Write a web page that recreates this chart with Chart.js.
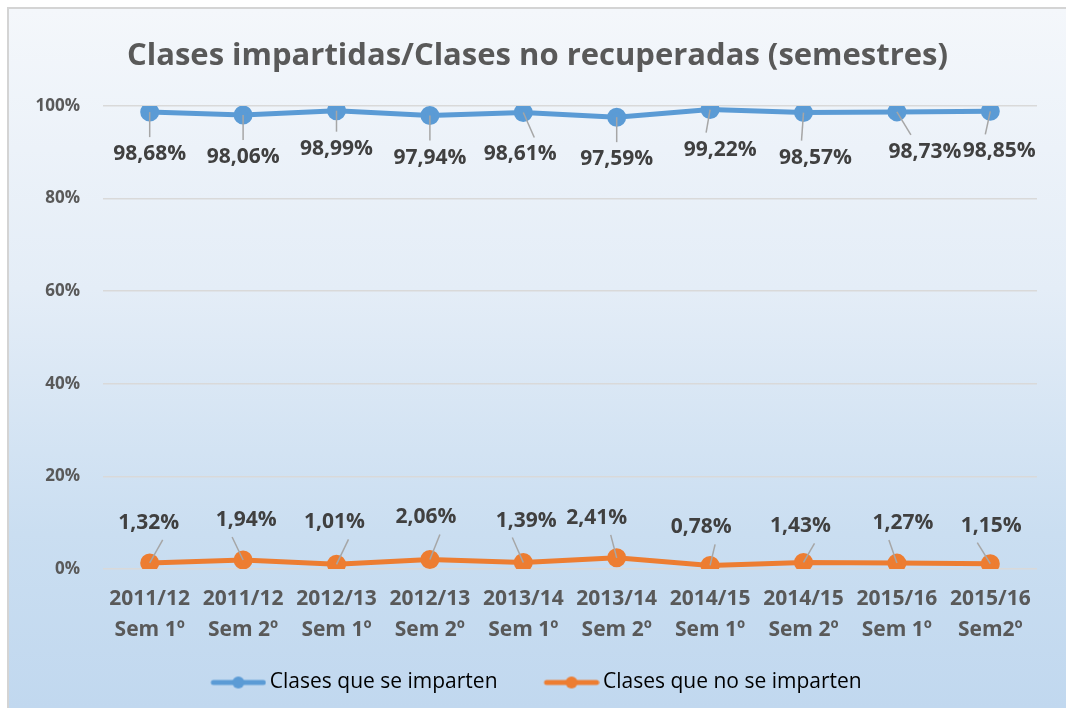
<!DOCTYPE html>
<html>
<head>
<meta charset="utf-8">
<script src="https://cdn.jsdelivr.net/npm/chart.js@4.4.0/dist/chart.umd.min.js"></script>
<style>
  body { margin: 0; background: #fff; }
  #box {
    position: absolute; left: 7px; top: 7px; width: 1059px; height: 699px;
    border-top: 2px solid #d4d4d4; border-left: 2px solid #d4d4d4;
    background: linear-gradient(to bottom, #f4f7fb 0%, #e4edf7 40%, #cadef1 75%, #c1d8ef 100%);
  }
  #title {
    position: absolute; left: 0; width: 1075px; top: 33px; text-align: center;
    font: bold 31px "Open Sans"; color: #595959; line-height: 40px;
  }
  #chart { display: block; position: absolute; left: 0; top: 0; }
</style>
</head>
<body>
<div id="box">
  <canvas id="chart" width="1059" height="699"></canvas>
</div>
<div id="title">Clases impartidas/Clases no recuperadas (semestres)</div>
<script>
const categories = [
  ['2011/12', 'Sem 1º'], ['2011/12', 'Sem 2º'], ['2012/13', 'Sem 1º'], ['2012/13', 'Sem 2º'],
  ['2013/14', 'Sem 1º'], ['2013/14', 'Sem 2º'], ['2014/15', 'Sem 1º'], ['2014/15', 'Sem 2º'],
  ['2015/16', 'Sem 1º'], ['2015/16', 'Sem2º']
];
const impartidas = [98.68, 98.06, 98.99, 97.94, 98.61, 97.59, 99.22, 98.57, 98.73, 98.85];
const noImpartidas = [1.32, 1.94, 1.01, 2.06, 1.39, 2.41, 0.78, 1.43, 1.27, 1.15];
const seriesNames = ['Clases que se imparten', 'Clases que no se imparten'];
const yTicks = [0, 20, 40, 60, 80, 100];

// label nudges (px) for the data labels, like manual Excel placement
const blueNudge = [[0, 42], [0, 42], [0, 38], [0, 42], [-3, 42], [0, 42], [10, 40], [12, 45], [28, 40], [9, 40]];
const orangeNudge = [[-1, -40], [3, -40], [-2, -42], [-4, -42], [3, -42], [-20, -40], [-9, -38], [-3, -36], [6, -40], [1, -38]];

const fmt = v => v.toFixed(2).replace('.', ',') + '%';

// legend marker: line with a dot at the right end of a wider image,
// the empty left part adds to the gap between the two legend items
function legendMarker(color) {
  const c = document.createElement('canvas');
  c.width = 89; c.height = 16;
  const g = c.getContext('2d');
  g.strokeStyle = color;
  g.lineWidth = 5;
  g.lineCap = 'round';
  g.beginPath(); g.moveTo(36, 8); g.lineTo(86, 8); g.stroke();
  g.fillStyle = color;
  g.beginPath(); g.arc(61, 8, 6, 0, Math.PI * 2); g.fill();
  return c;
}

const labelPlugin = {
  id: 'dataLabels',
  afterDatasetsDraw(chart) {
    const ctx = chart.ctx;
    ctx.save();
    ctx.font = 'bold 21px "Open Sans"';
    ctx.textAlign = 'center';
    ctx.textBaseline = 'middle';
    chart.data.datasets.forEach((ds, di) => {
      const meta = chart.getDatasetMeta(di);
      const nudge = di === 0 ? blueNudge : orangeNudge;
      meta.data.forEach((pt, i) => {
        const lx = pt.x + nudge[i][0];
        const ly = pt.y + nudge[i][1];
        const dir = Math.sign(nudge[i][1]);
        const ex = lx - (nudge[i][0] !== 0 ? Math.sign(nudge[i][0]) * 14 : 0);
        const ey = ly - dir * 17;
        ctx.strokeStyle = '#a6a6a6';
        ctx.lineWidth = 1.5;
        ctx.beginPath();
        ctx.moveTo(pt.x, pt.y);
        ctx.lineTo(ex, ey);
        ctx.stroke();
        ctx.fillStyle = '#404040';
        ctx.fillText(fmt(ds.data[i]), lx, ly);
      });
    });
    ctx.restore();
  }
};

const colors = ['#5b9bd5', '#ed7d31'];

new Chart(document.getElementById('chart'), {
  type: 'line',
  data: {
    labels: categories,
    datasets: [
      {
        label: seriesNames[0],
        data: impartidas,
        borderColor: colors[0],
        backgroundColor: colors[0],
        borderWidth: 5,
        pointRadius: 7,
        pointHoverRadius: 7,
        tension: 0
      },
      {
        label: seriesNames[1],
        data: noImpartidas,
        borderColor: colors[1],
        backgroundColor: colors[1],
        borderWidth: 5,
        pointRadius: 7,
        pointHoverRadius: 7,
        tension: 0
      }
    ]
  },
  options: {
    responsive: false,
    animation: false,
    layout: { padding: { left: 0, right: 31, top: 97, bottom: 5 } },
    plugins: {
      title: { display: false },
      legend: {
        position: 'bottom',
        labels: {
          color: '#595959',
          font: { family: '"Open Sans"', size: 21 },
          usePointStyle: true,
          pointStyleWidth: 75,
          boxHeight: 16,
          padding: 20,
          generateLabels(chart) {
            return chart.data.datasets.map((ds, i) => ({
              text: ds.label,
              pointStyle: legendMarker(colors[i]),
              fillStyle: colors[i],
              strokeStyle: colors[i],
              lineWidth: 0,
              datasetIndex: i
            }));
          }
        }
      },
      tooltip: { enabled: false }
    },
    scales: {
      x: {
        offset: true,
        grid: { display: false },
        border: { display: false },
        ticks: {
          color: '#595959',
          font: { family: '"Open Sans"', size: 21, weight: 'bold', lineHeight: 1.5 },
          maxRotation: 0,
          padding: 6
        }
      },
      y: {
        min: 0,
        max: 100,
        afterBuildTicks(axis) { axis.ticks = yTicks.map(v => ({ value: v })); },
        afterFit(axis) { axis.width = 94; },
        grid: { color: '#d9d9d9', lineWidth: 1.5, drawTicks: false },
        border: { display: false },
        ticks: {
          color: '#595959',
          font: { family: '"Open Sans"', size: 17, weight: 'bold' },
          padding: 23,
          callback: v => v + '%'
        }
      }
    }
  },
  plugins: [labelPlugin]
});
</script>
</body>
</html>
